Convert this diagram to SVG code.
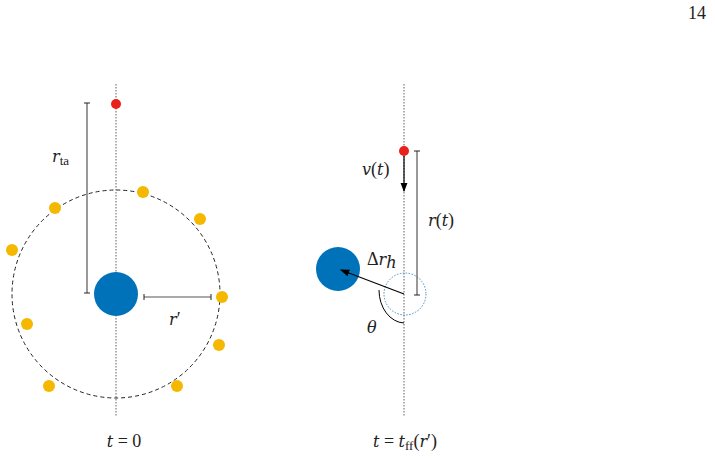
<svg xmlns="http://www.w3.org/2000/svg" width="715" height="460" viewBox="0 0 715 460" font-family="'Liberation Serif','DejaVu Serif',serif">
<style>
.ax{stroke:#333;stroke-width:0.8;stroke-dasharray:1.5,1.5;fill:none}
.bar{stroke:#555;stroke-width:1.2;fill:none}
.tk{stroke:#222;stroke-width:1}
.y{fill:#f5b800}
.r{fill:#e8211a}
.b{fill:#0072b9}
text{font-family:'Liberation Serif','DejaVu Serif',serif;font-size:18px;fill:#222}
.i{font-family:'DejaVu Serif',serif;font-style:italic;font-size:16px}
</style>
<defs><marker id="ah" markerWidth="8" markerHeight="6" refX="7" refY="3" orient="auto"><path d="M0,0L8,3L0,6z" fill="#000"/></marker></defs>
<text x="697" y="19" text-anchor="middle" font-size="15">14</text>
<g id="left">
<line class="ax" x1="116" y1="84" x2="116" y2="416"/>
<circle cx="116" cy="294" r="104" fill="none" stroke="#222" stroke-width="1" stroke-dasharray="4,3"/>
<circle class="b" cx="116" cy="294" r="22"/>
<circle class="r" cx="116" cy="104" r="5"/>
<g class="y"><circle cx="143" cy="192" r="6"/><circle cx="55" cy="208" r="6"/><circle cx="200" cy="219" r="6"/><circle cx="12" cy="250" r="6"/><circle cx="222" cy="297" r="6"/><circle cx="27" cy="324" r="6"/><circle cx="219" cy="345" r="6"/><circle cx="49" cy="386" r="6"/><circle cx="177" cy="386" r="6"/></g>
<line class="bar" x1="87" y1="103" x2="87" y2="293"/><line class="tk" x1="84" y1="103" x2="90" y2="103"/><line class="tk" x1="84" y1="293" x2="90" y2="293"/>
<text x="52" y="162"><tspan class="i">r</tspan><tspan font-size="13" dy="3">ta</tspan></text>
<line class="bar" x1="144" y1="297" x2="211" y2="297"/><line class="tk" x1="144" y1="294" x2="144" y2="300"/><line class="tk" x1="211" y1="294" x2="211" y2="300"/>
<text x="169" y="325"><tspan class="i">r</tspan>′</text>
<text x="124" y="447" text-anchor="middle"><tspan class="i">t</tspan> = 0</text>
</g>
<g id="right">
<line class="ax" x1="404" y1="84" x2="404" y2="416"/>
<circle cx="405" cy="294" r="21" fill="none" stroke="#4a90c0" stroke-width="1" stroke-dasharray="1.5,1.5"/>
<circle class="b" cx="338" cy="269" r="22"/>
<circle class="r" cx="404" cy="151" r="5"/>
<line class="bar" x1="417" y1="151" x2="417" y2="295"/><line class="tk" x1="414" y1="151" x2="420" y2="151"/><line class="tk" x1="414" y1="295" x2="420" y2="295"/>
<text x="428" y="226"><tspan class="i">r</tspan>(<tspan class="i">t</tspan>)</text>
<text x="362" y="175"><tspan class="i">v</tspan>(<tspan class="i">t</tspan>)</text>
<text x="367" y="265">Δ<tspan class="i">r</tspan><tspan class="i" font-size="12" dy="3">h</tspan></text>
<text x="367" y="333" class="i">θ</text>
<text x="405" y="447" text-anchor="middle"><tspan class="i">t</tspan> = <tspan class="i">t</tspan><tspan font-size="13" dy="3">ff</tspan><tspan dy="-3">(</tspan><tspan class="i">r</tspan>′)</text>
</g>
<g id="connectors">
<line x1="404" y1="156" x2="404" y2="191" stroke="#000" stroke-width="1.2" marker-end="url(#ah)"/>
<line x1="404" y1="294" x2="341" y2="270" stroke="#000" stroke-width="1.2" marker-end="url(#ah)"/>
<path d="M379,290 A26,33 0 0 0 404,323" fill="none" stroke="#000" stroke-width="1"/>
</g>
</svg>
